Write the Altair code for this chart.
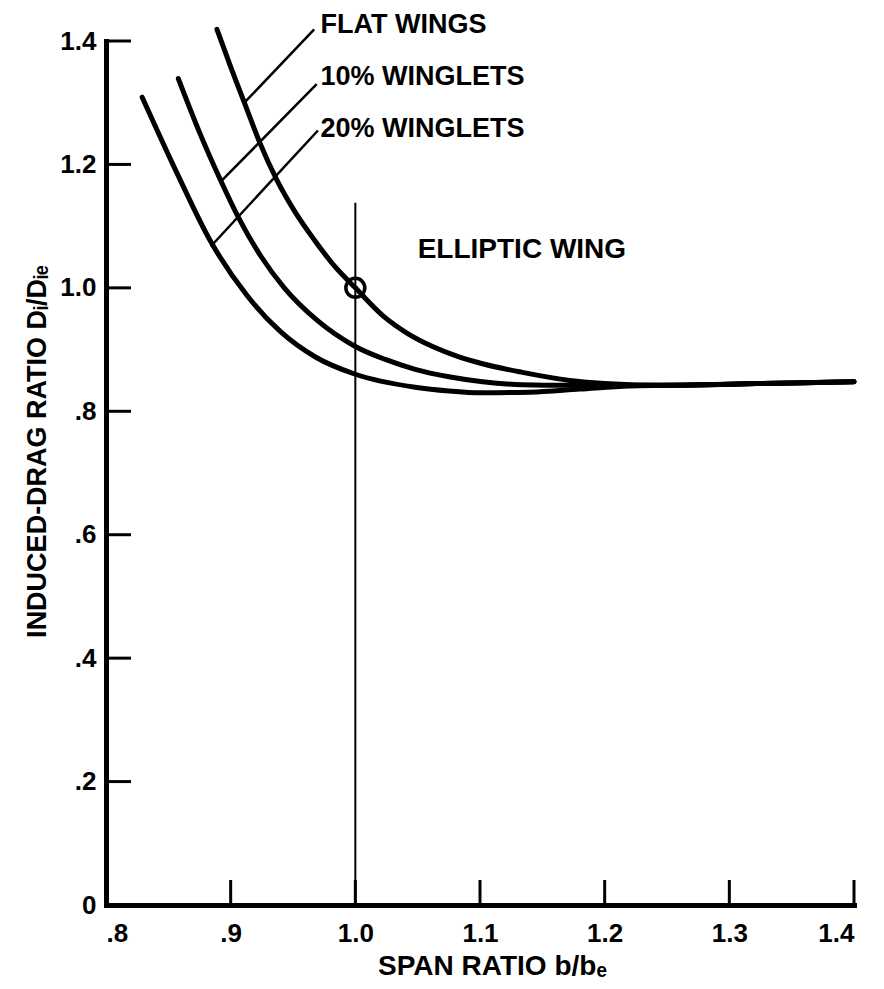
import altair as alt
import pandas as pd

# ---- data ----
flat_x = [0.889, 0.900, 0.911, 0.923, 0.937, 0.952, 0.967, 0.983, 1.000, 1.022, 1.042, 1.062, 1.082, 1.102, 1.134, 1.172, 1.200]
flat_y = [1.419, 1.358, 1.300, 1.237, 1.175, 1.122, 1.078, 1.036, 1.000, 0.955, 0.926, 0.905, 0.889, 0.877, 0.863, 0.850, 0.845]

w10_x = [0.858, 0.875, 0.892, 0.906, 0.924, 0.943, 0.969, 1.000, 1.024, 1.048, 1.075, 1.102, 1.134, 1.170, 1.200]
w10_y = [1.339, 1.252, 1.174, 1.115, 1.052, 1.000, 0.948, 0.905, 0.884, 0.868, 0.856, 0.848, 0.843, 0.842, 0.842]

w20_x = [0.829, 0.856, 0.884, 0.913, 0.940, 0.968, 1.000, 1.048, 1.075, 1.102, 1.140, 1.180, 1.220]
w20_y = [1.309, 1.190, 1.075, 0.988, 0.929, 0.888, 0.860, 0.839, 0.833, 0.830, 0.831, 0.836, 0.841]

tail_x = [1.25, 1.30, 1.35, 1.40]
tail_y = [0.842, 0.844, 0.846, 0.848]

series_names = ["FLAT WINGS", "10% WINGLETS", "20% WINGLETS"]

x_ticks = [0.9, 1.0, 1.1, 1.2, 1.3, 1.4]
y_ticks = [0.2, 0.4, 0.6, 0.8, 1.0, 1.2, 1.4]
x_labels_at = [0.8, 0.9, 1.0, 1.1, 1.2, 1.3, 1.4]
y_labels_at = [0.0, 0.2, 0.4, 0.6, 0.8, 1.0, 1.2, 1.4]

# leader lines from curves to their labels
lead_x = [0.911, 0.893, 0.884]
lead_y = [1.300, 1.174, 1.067]
lead_x2 = [0.967, 0.969, 0.970]
lead_y2 = [1.419, 1.330, 1.255]

label_x = [0.972, 0.972, 0.972]
label_y = [1.426, 1.342, 1.258]

elliptic_label = "ELLIPTIC WING"
elliptic_label_x = [1.05]
elliptic_label_y = [1.062]
elliptic_x = [1.0]
elliptic_y_top = [1.138]
elliptic_point_x = [1.0]
elliptic_point_y = [1.0]

# ---- build tables ----
rows = []
for name, xs, ys in zip(series_names, [flat_x, w10_x, w20_x], [flat_y, w10_y, w20_y]):
    for xv, yv in zip(xs + tail_x, ys + tail_y):
        rows.append({"series": name, "x": xv, "y": yv})
curves = pd.DataFrame(rows)

W, H = 748, 864
FONT = "Liberation Sans"

x_scale = alt.Scale(domain=[0.8, 1.4], nice=False, zero=False)
y_scale = alt.Scale(domain=[0.0, 1.4], nice=False, zero=False)

label_expr = ("datum.value == 0 ? '0' : (datum.value < 1 ? "
              "replace(format(datum.value, '.1f'), '0.', '.') : format(datum.value, '.1f'))")

x_axis = alt.Axis(values=x_labels_at, labelExpr=label_expr, ticks=False, grid=False,
                  domainWidth=5, domainColor="black", domainCap="square",
                  labelFontSize=26, labelFontWeight="bold", labelColor="black",
                  labelPadding=15, labelFont=FONT,
                  title="SPAN RATIO b/bₑ", titleFont=FONT, titleFontSize=28,
                  titleFontWeight="bold", titleColor="black",
                  titleX=386, titleY=61, titleAlign="center", titleBaseline="middle")

y_axis = alt.Axis(values=y_labels_at, labelExpr=label_expr, ticks=False, grid=False,
                  domainWidth=5, domainColor="black", domainCap="square",
                  labelFontSize=26, labelFontWeight="bold", labelColor="black",
                  labelPadding=10, labelFont=FONT,
                  title="INDUCED-DRAG RATIO Dᵢ/Dᵢₑ", titleFont=FONT, titleFontSize=27,
                  titleFontWeight="bold", titleColor="black", titleAngle=270,
                  titleX=-69, titleY=410, titleAlign="center", titleBaseline="middle")


def X(field="x"):
    return alt.X(f"{field}:Q", scale=x_scale, axis=x_axis)


def Y(field="y"):
    return alt.Y(f"{field}:Q", scale=y_scale, axis=y_axis)


lines = alt.Chart(curves).mark_line(
    color="black", strokeWidth=5, interpolate="monotone", strokeCap="round", strokeJoin="round"
).encode(
    x=X(), y=Y(), detail="series:N",
)

xt = alt.Chart(pd.DataFrame({"x": x_ticks})).mark_rule(color="black", strokeWidth=3).encode(
    x=X(), y=alt.value(H), y2=alt.value(H - 25),
)

yt = alt.Chart(pd.DataFrame({"y": y_ticks})).mark_rule(color="black", strokeWidth=3).encode(
    y=Y(), x=alt.value(0), x2=alt.value(25),
)

vline = alt.Chart(pd.DataFrame({"x": elliptic_x, "y": [0.0], "y2": elliptic_y_top})).mark_rule(
    color="black", strokeWidth=2
).encode(
    x=X(), y=Y(), y2="y2:Q",
)

circle = alt.Chart(pd.DataFrame({"x": elliptic_point_x, "y": elliptic_point_y})).mark_point(
    shape="circle", size=361, filled=False, color="black", strokeWidth=3.5, opacity=1
).encode(
    x=X(), y=Y(),
)

leaders = alt.Chart(pd.DataFrame({"x": lead_x, "y": lead_y, "x2": lead_x2, "y2": lead_y2})).mark_rule(
    color="black", strokeWidth=2.5
).encode(
    x=X(), y=Y(), x2="x2:Q", y2="y2:Q",
)

labels = alt.Chart(pd.DataFrame({"t": series_names, "x": label_x, "y": label_y})).mark_text(
    align="left", baseline="middle", font=FONT, fontSize=27, fontWeight="bold", color="black"
).encode(
    x=X(), y=Y(), text="t:N",
)

ell_label = alt.Chart(pd.DataFrame({"t": [elliptic_label], "x": elliptic_label_x, "y": elliptic_label_y})).mark_text(
    align="left", baseline="middle", font=FONT, fontSize=28, fontWeight="bold", color="black"
).encode(
    x=X(), y=Y(), text="t:N",
)

chart = alt.layer(lines, xt, yt, vline, circle, leaders, labels, ell_label).properties(
    width=W, height=H,
    autosize=alt.AutoSizeParams(type="none"),
    padding={"left": 98, "top": 33, "right": 20, "bottom": 76},
    background="white",
).configure_view(stroke=None)

chart.save("out.html", embed_options={"renderer": "svg", "actions": False})
